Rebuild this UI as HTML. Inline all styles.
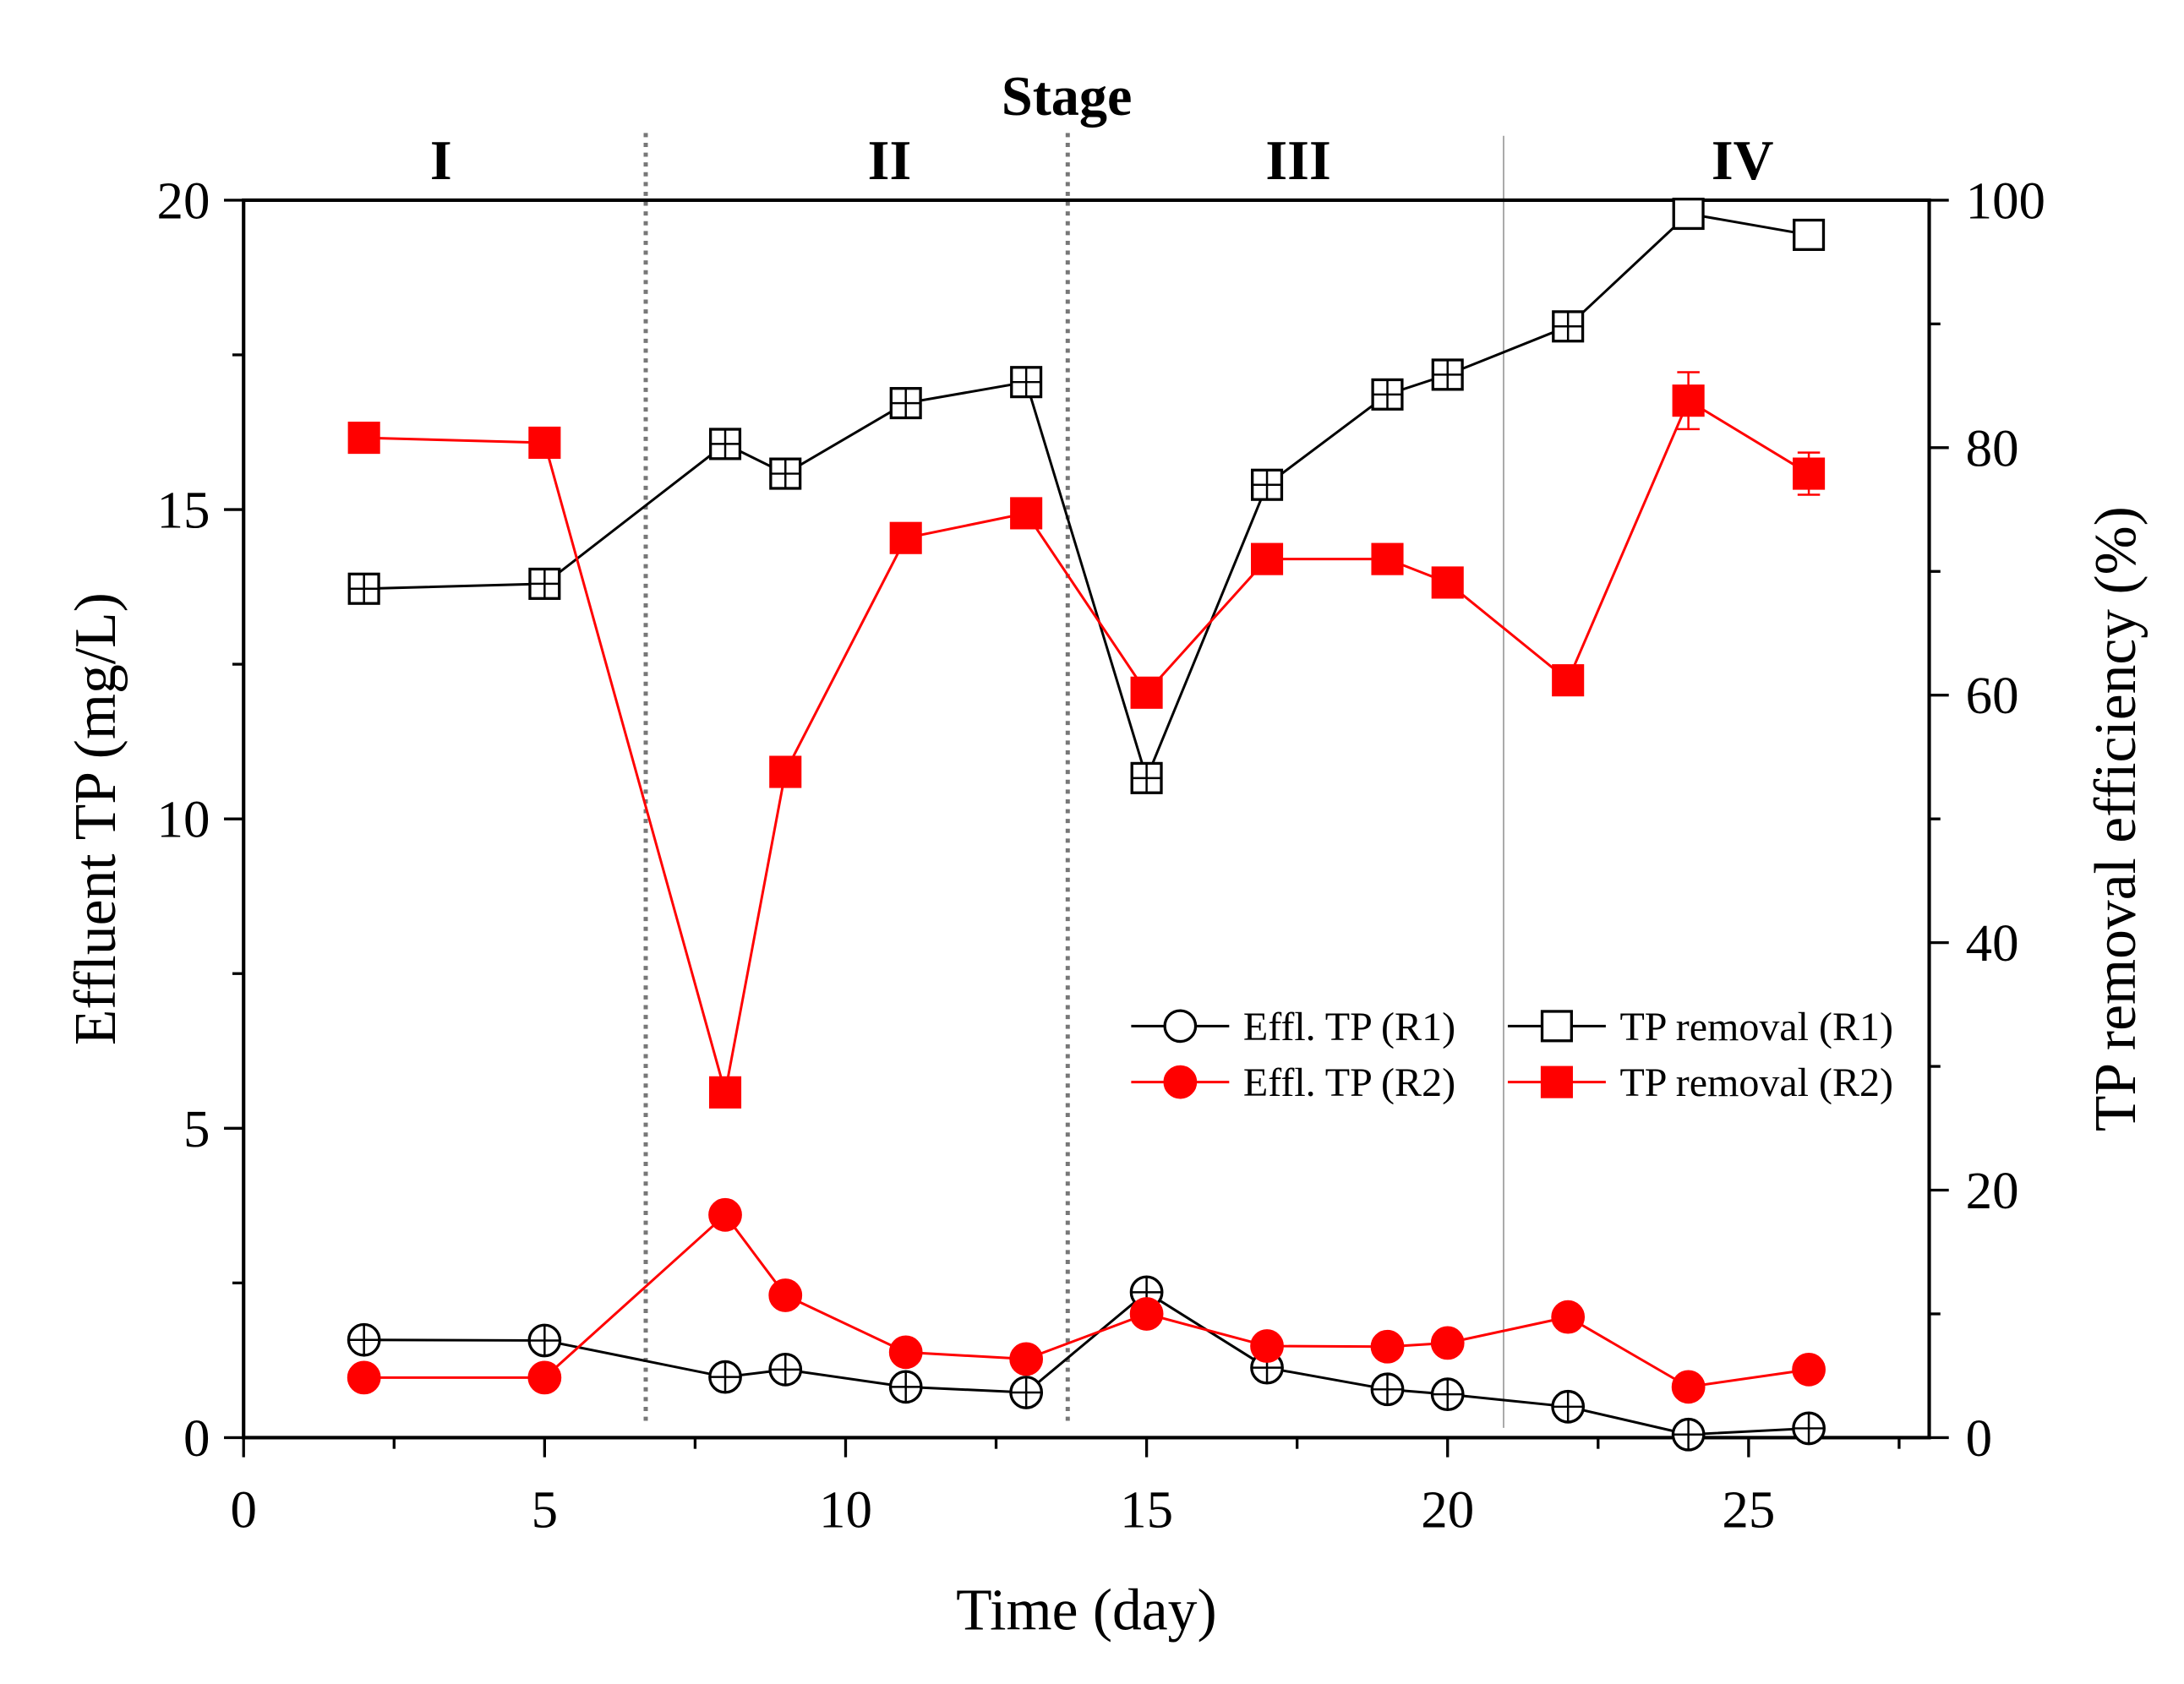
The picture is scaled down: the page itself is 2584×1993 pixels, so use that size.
<!DOCTYPE html>
<html><head><meta charset="utf-8"><style>
html,body{margin:0;padding:0;background:#fff}
svg{display:block}
text{font-family:"Liberation Serif",serif}
</style></head><body>
<svg id="chart" xmlns="http://www.w3.org/2000/svg" width="2584" height="1993" viewBox="0 0 1560 1203" preserveAspectRatio="none">
<rect width="1560" height="1203" fill="#fff"/>
<g id="g"></g>
</svg>
<script>
const days = [2,5,8,9,11,13,15,17,19,20,22,24,26];
const efflR1 = [1.58,1.57,0.98,1.1,0.82,0.73,2.35,1.13,0.78,0.7,0.5,0.05,0.15];
const efflR2 = [0.97,0.97,3.6,2.3,1.38,1.27,2.0,1.48,1.47,1.53,1.95,0.82,1.1];
const remR1 = [68.6,69.0,80.3,77.9,83.6,85.3,53.3,77.0,84.3,85.9,89.8,98.9,97.2];
const remR2 = [80.8,80.4,27.9,53.8,72.7,74.7,60.2,71.0,71.0,69.1,61.2,83.8,77.9];
const remR2Err = [0,0,0,0,0,0,0,0,0,0,0,2.3,1.7];
const xTicks = [0,5,10,15,20,25];
const yLTicks = [0,5,10,15,20];
const yRTicks = [0,20,40,60,80,100];
const stageBounds = [6.68,13.69,20.93];
const stageNames = ['I','II','III','IV'];
const stageCenters = [3.28,10.73,17.52,24.9];

const L=174,R=1378,T=143,B=1027;
const X=d=>L+(d/28)*(R-L);
const YL=v=>B-(v/20)*(B-T);
const YR=v=>B-(v/100)*(B-T);
const g=document.getElementById('g');
const NS='http://www.w3.org/2000/svg';
function mk(tag,attrs,parent){const e=document.createElementNS(NS,tag);for(const k in attrs)e.setAttribute(k,attrs[k]);(parent||g).appendChild(e);return e;}
function txt(s,attrs,name){const e=mk('text',attrs);e.textContent=s;return e;}

// stage lines
stageBounds.forEach((b,i)=>{
  const e=mk('line',{x1:X(b),x2:X(b),y1:i<2?95:97,y2:i<2?1017:1020,stroke:i<2?'#777':'#999','stroke-width':i<2?3:1,'stroke-dasharray':i<2?'3,4':''});
  
  
});
txt('Stage',{x:762,y:82,'font-size':40,'font-weight':'bold','text-anchor':'middle'},'stage-title');
stageNames.forEach((s,i)=>txt(s,{x:X(stageCenters[i]),y:128,'font-size':40,'font-weight':'bold','text-anchor':'middle'},'stage-label'));

// frame
const fr=mk('rect',{x:L,y:T,width:R-L,height:B-T,fill:'none',stroke:'#000','stroke-width':2.5});



// x ticks
for(let d=0;d<=27.5;d+=2.5){const maj=d%5===0;mk('line',{x1:X(d),x2:X(d),y1:B,y2:B+(maj?14:8),stroke:'#000','stroke-width':2});}
xTicks.forEach(t=>txt(String(t),{x:X(t),y:B+64,'font-size':38,'text-anchor':'middle'},'x-tick-label'));
// left ticks
for(let v=0;v<=20;v+=2.5){const maj=v%5===0;mk('line',{x1:L,x2:L-(maj?14:8),y1:YL(v),y2:YL(v),stroke:'#000','stroke-width':2});}
yLTicks.forEach(t=>txt(String(t),{x:L-24,y:YL(t)+13,'font-size':38,'text-anchor':'end'},'y-left-tick-label'));
// right ticks
for(let v=0;v<=100;v+=10){const maj=v%20===0;mk('line',{x1:R,x2:R+(maj?14:8),y1:YR(v),y2:YR(v),stroke:'#000','stroke-width':2});}
yRTicks.forEach(t=>txt(String(t),{x:R+26,y:YR(t)+13,'font-size':38,'text-anchor':'start'},'y-right-tick-label'));

txt('Time (day)',{x:776,y:1164,'font-size':42,'text-anchor':'middle'},'x-axis-title');
txt('Effluent TP (mg/L)',{x:82,y:585,'font-size':42,'text-anchor':'middle',transform:'rotate(-90 82 585)'},'y-left-axis-title');
txt('TP removal efficiency (%)',{x:1525,y:585,'font-size':42,'text-anchor':'middle',transform:'rotate(-90 1525 585)'},'y-right-axis-title');

function line(xs,ys,color,name){const p=mk('polyline',{points:xs.map((d,i)=>X(d)+','+ys[i]).join(' '),fill:'none',stroke:color,'stroke-width':1.8});}
function circ(x,y,color,filled,cross,name){const c=mk('circle',{cx:x,cy:y,r:11,fill:filled?color:'#fff',stroke:color,'stroke-width':2});if(cross){mk('line',{x1:x-11,x2:x+11,y1:y,y2:y,stroke:color,'stroke-width':1.5});mk('line',{x1:x,x2:x,y1:y-11,y2:y+11,stroke:color,'stroke-width':1.5});}}
function sq(x,y,color,filled,cross,name){const s=mk('rect',{x:x-10.5,y:y-10.5,width:21,height:21,fill:filled?color:'#fff',stroke:color,'stroke-width':2});if(cross){mk('line',{x1:x-10.5,x2:x+10.5,y1:y,y2:y,stroke:color,'stroke-width':1.5});mk('line',{x1:x,x2:x,y1:y-10.5,y2:y+10.5,stroke:color,'stroke-width':1.5});}}

const yR1=remR1.map(YR), yR2=remR2.map(YR), yE1=efflR1.map(YL), yE2=efflR2.map(YL);
line(days,yR1,'#000','removal-r1-line');
line(days,yR2,'#f00','removal-r2-line');
line(days,yE1,'#000','effl-r1-line');
line(days,yE2,'#f00','effl-r2-line');
days.forEach((d,i)=>{
  if(remR2Err[i]>0){const x=X(d),y1=YR(remR2[i]+remR2Err[i]),y2=YR(remR2[i]-remR2Err[i]);
    mk('line',{x1:x,x2:x,y1:y1,y2:y2,stroke:'#f00','stroke-width':1.5});
    mk('line',{x1:x-8,x2:x+8,y1:y1,y2:y1,stroke:'#f00','stroke-width':1.5});
    mk('line',{x1:x-8,x2:x+8,y1:y2,y2:y2,stroke:'#f00','stroke-width':1.5});}
  sq(X(d),yR1[i],'#000',false,i<11,'removal-r1-point');
  sq(X(d),yR2[i],'#f00',true,false,'removal-r2-point');
  circ(X(d),yE1[i],'#000',false,true,'effl-r1-point');
  circ(X(d),yE2[i],'#f00',true,false,'effl-r2-point');
});

// legend
const lg=[['Effl. TP (R1)',808,733,'#000','c',false],['Effl. TP (R2)',808,773,'#f00','c',true],['TP removal (R1)',1077,733,'#000','s',false],['TP removal (R2)',1077,773,'#f00','s',true]];
lg.forEach(([s,x,y,c,m,f])=>{
  mk('line',{x1:x,x2:x+70,y1:y,y2:y,stroke:c,'stroke-width':1.8});
  if(m==='c')circ(x+35,y,c,f,false,'legend-marker');else sq(x+35,y,c,f,false,'legend-marker');
  txt(s,{x:x+80,y:y+10,'font-size':29},'legend-entry');
});
</script>
</body></html>
